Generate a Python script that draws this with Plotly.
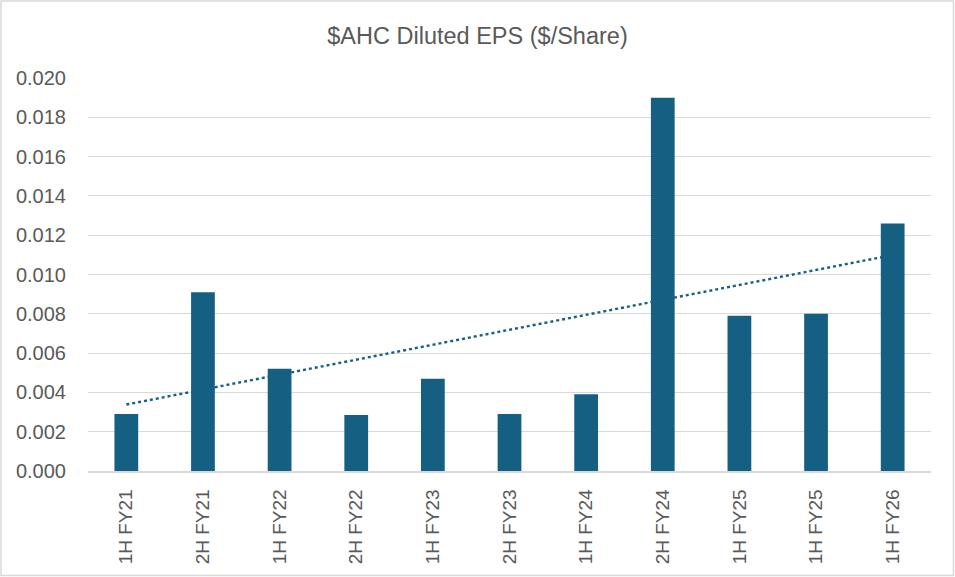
import numpy as np
import plotly.graph_objects as go

categories = ["1H FY21", "2H FY21", "1H FY22", "2H FY22", "1H FY23", "2H FY23",
              "1H FY24", "2H FY24", "1H FY25", "1H FY25", "1H FY26"]
eps = [0.0029, 0.0091, 0.0052, 0.00285, 0.0047, 0.0029, 0.0039, 0.0190, 0.0079, 0.0080, 0.0126]
y_ticks = [0.000, 0.002, 0.004, 0.006, 0.008, 0.010, 0.012, 0.014, 0.016, 0.018, 0.020]

x = np.arange(1, len(categories) + 1)
slope, intercept = np.polyfit(x, eps, 1)
trend = slope * x + intercept

W, H = 955, 577
L, R, T, B = 88, 24, 78, 106
pw, ph = W - L - R, H - T - B

BAR = "#156082"
TXT = "#595959"
GRID = "#d9d9d9"

fig = go.Figure()
fig.add_trace(go.Bar(x=x, y=eps, width=0.31, marker=dict(color=BAR, line=dict(width=0)),
                     showlegend=False))
fig.add_trace(go.Scatter(x=x, y=trend, mode="lines",
                         line=dict(color=BAR, width=2.4, dash="dot"), showlegend=False))

def px_x(p):
    return (p - L) / pw

def px_y(p):
    return (H - B - p) / ph

fig.add_shape(type="rect", xref="paper", yref="paper",
              x0=px_x(1), x1=px_x(953.5), y0=px_y(575.5), y1=px_y(1),
              line=dict(color=GRID, width=1.5), fillcolor="rgba(0,0,0,0)", layer="above")

fig.update_layout(
    width=W, height=H,
    margin=dict(l=L, r=R, t=T, b=B, autoexpand=False),
    paper_bgcolor="white", plot_bgcolor="white",
    font=dict(family="Liberation Sans, Arial, sans-serif", color=TXT, size=19),
    title=dict(text="$AHC Diluted EPS ($/Share)", x=0.5, xref="container",
               y=1 - 36 / H, yref="container", xanchor="center", yanchor="middle",
               font=dict(size=23.5, color=TXT)),
    bargap=0.69,
    xaxis=dict(range=[0.5, len(categories) + 0.5], tickmode="array", tickvals=x,
               ticktext=categories, tickangle=-90, showgrid=False, zeroline=False,
               showline=True, linecolor=GRID, linewidth=1.5, ticks="",
               ticklabelstandoff=9, tickfont=dict(size=19, color=TXT)),
    yaxis=dict(range=[0, 0.020], tickmode="array", tickvals=y_ticks,
               ticktext=[f"{v:.3f}" for v in y_ticks], showgrid=True, gridcolor=GRID,
               gridwidth=1.3, zeroline=False, showline=False, ticks="",
               ticklabelstandoff=21, tickfont=dict(size=20, color=TXT)),
)

fig.write_html("out.html", config={"displayModeBar": False},
               post_script="document.body.style.margin='0px';")
